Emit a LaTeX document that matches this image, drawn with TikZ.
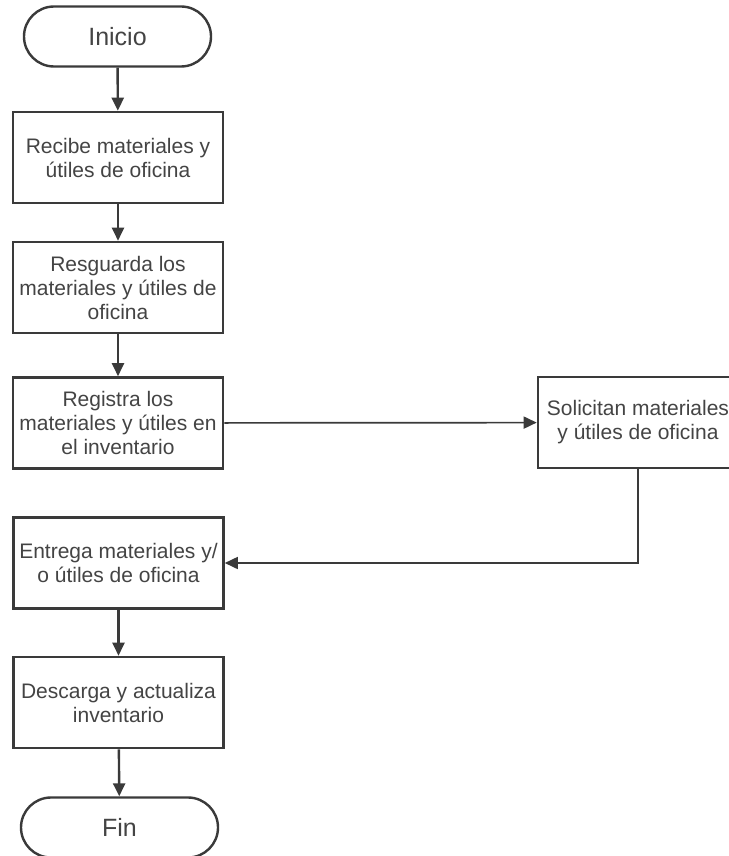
\documentclass[tikz,border=0pt]{standalone}
\usepackage{fontspec}
\setmainfont{Liberation Sans}
\usetikzlibrary{arrows.meta}
\definecolor{ink}{HTML}{3A3A3A}
\definecolor{txt}{HTML}{444444}
\begin{document}
\begin{tikzpicture}[x=1pt,y=-1pt,
  procbox/.style={draw=ink, line width=2.6pt, rectangle, minimum width=210pt, minimum height=91pt, inner sep=0pt, align=center, text=txt, font=\fontsize{21}{24}\selectfont},
  termbox/.style={draw=ink, line width=2.4pt, rectangle, rounded corners=30pt, minimum width=187pt, minimum height=60pt, inner sep=0pt, text=txt, font=\fontsize{25}{28}\selectfont},
  vflow/.style={draw=ink, line width=2.4pt, -{Triangle[length=13pt,width=12pt]}},
  hflow/.style={draw=ink, line width=1.7pt, -{Triangle[length=13pt,width=12pt]}}]
\useasboundingbox (0,0) rectangle (728,856);
\fill[white] (0,0) rectangle (728,856);
\node[termbox] (inicio) at (117.5,36.5) {Inicio};
\node[procbox] (b1) at (118,157.5) {Recibe materiales y\\útiles de oficina};
\node[procbox] (b2) at (118,287.5) {Resguarda los\\materiales y útiles de\\oficina};
\node[procbox] (b3) at (118,423) {Registra los\\materiales y útiles en\\el inventario};
\node[procbox, minimum width=200pt] (sol) at (638,422.5) {Solicitan materiales\\y útiles de oficina};
\node[procbox] (b4) at (118.5,563) {Entrega materiales y/\\o útiles de oficina};
\node[procbox] (b5) at (118.5,702.5) {Descarga y actualiza\\inventario};
\node[termbox, minimum width=197pt] (fin) at (119.5,827.5) {Fin};
\draw[vflow] (inicio) -- (b1);
\draw[vflow] (b1) -- (b2);
\draw[vflow] (b2) -- (b3);
\draw[hflow] (b3) -- (sol);
\draw[hflow] (sol.south) |- (b4.east);
\draw[vflow] (b4) -- (b5);
\draw[vflow] (b5) -- (fin);
\end{tikzpicture}
\end{document}
